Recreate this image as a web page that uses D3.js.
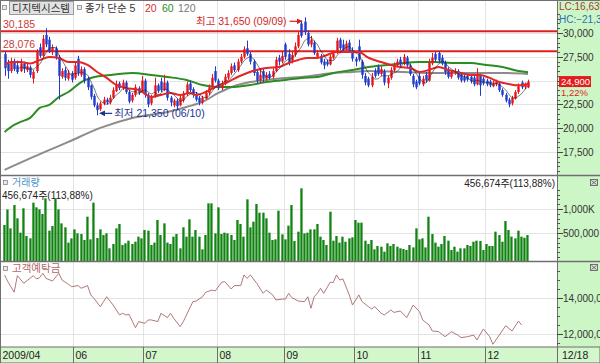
<!DOCTYPE html>
<html>
<head>
<meta charset="utf-8">
<script src="https://cdn.jsdelivr.net/npm/d3@7"></script>
<style>
  body { margin: 0; background: #fff; }
  svg { display: block; }
  text { font-family: "Liberation Sans", "Noto Sans CJK KR", sans-serif; }
</style>
</head>
<body>
<div id="chart"></div>
<script>
// daily candles 2009/04/28 ~ 12/18
var opens = [27800,26800,26000,27000,26600,26000,26800,26100,26400,25200,
  26000,28500,27600,29800,29300,28000,28400,27500,25400,26100,
  25200,25800,25300,27300,25600,26200,25200,24500,23400,22400,
  22000,22600,23000,22700,23200,23900,24700,24200,24800,23800,
  22900,23500,24200,23800,25000,23500,22600,23300,24500,24900,
  24000,24800,23200,22400,22900,22400,22900,23600,24700,24100,
  23600,23200,22700,23100,23700,24300,26000,25000,24200,24700,
  25300,25800,26600,26100,27000,27500,28400,27800,27000,25900,
  25000,26000,25200,25700,25400,26000,27400,27000,28800,27800,
  27000,27700,28600,31000,31200,30000,28800,29000,27500,27600,
  27000,27000,26700,27400,27900,29300,28800,28200,29000,28200,
  27300,28600,27000,25500,25200,24500,26000,26400,25700,26000,
  24700,25300,26100,26600,27200,26800,27400,26600,25500,24900,
  25500,24600,25600,25000,26800,27800,27900,27400,26900,26200,
  25400,25800,26000,25700,25400,25500,25400,25300,24600,25500,
  25200,25000,24900,24400,24600,24700,24000,23500,23000,22600,
  23100,23800,24800,24300,24300];
var closes = [26300,26000,26900,26200,25900,26800,26200,26500,25600,25900,
  28000,27600,29400,28800,28100,28500,27500,25500,26000,25300,
  25800,25100,26600,25800,26200,25000,24300,23300,22400,21900,
  22600,23000,22700,23200,24000,24600,24200,24800,23800,22800,
  23500,24300,23700,25000,23500,22500,23300,24500,23900,24000,
  24800,23200,22700,22900,22300,23200,23600,24600,24000,23500,
  23000,22700,23200,23700,24300,25300,25000,24200,24700,25400,
  25800,26500,26100,27000,27500,28300,27800,27000,25800,25000,
  25600,25200,25600,25300,26000,27200,27000,27600,27500,26900,
  27700,28600,29800,29700,30100,28800,29300,27900,27900,26900,
  26600,26700,27500,27800,29200,28400,28200,28900,28100,27300,
  27000,27200,25600,24800,24500,25400,25500,25700,26200,24800,
  25300,26100,26600,27000,26700,27500,26600,25700,24600,24300,
  24700,25200,25000,26900,27400,27200,27100,26800,25900,25400,
  25900,26000,25300,25000,25000,25100,24900,24600,25600,24500,
  24700,24600,24500,24800,24900,24000,23500,22900,22500,23200,
  23800,24400,24300,24600,24900];
var highs = [28100,27200,27400,27300,27100,27300,27000,26800,26600,26100,
  28300,28900,29800,30500,29600,28800,28600,27700,26300,26400,
  26100,26000,26900,27600,26500,26400,25400,24600,23600,22700,
  22800,23300,23200,23500,24300,25000,24900,25100,25000,24000,
  23700,24600,24400,25500,25200,23700,23500,25300,24700,25300,
  25600,25000,23400,23100,23100,23400,23900,24900,25000,24300,
  23800,23400,23400,24000,24600,25700,26500,25200,25000,25700,
  26100,26800,26900,27300,27800,28600,29200,28000,27200,26200,
  26200,26300,25900,26000,26300,27500,27700,28000,29000,28300,
  28000,29000,30200,31300,31650,30300,29700,29200,28200,27800,
  27300,27200,27700,28100,29500,29500,29300,29200,29300,28500,
  27500,29300,27200,25800,25400,25800,26300,26700,26500,26200,
  25500,26400,26900,27300,27500,27800,27600,26800,25700,25100,
  26000,25500,25900,27300,27900,28000,28100,27700,27100,26400,
  26100,26300,26200,25900,25600,25700,25600,25500,26300,25700,
  25400,25200,25100,25000,25100,24900,24200,23700,23200,23400,
  24000,24700,25000,24800,25100];
var lows = [25500,25200,25800,26000,25700,25900,25800,25900,25300,24700,
  25800,27400,27500,28500,27900,27700,27200,23000,25200,25000,
  25000,24800,25100,25500,25400,24700,24000,23000,22200,21350,
  21800,22400,22500,22500,23100,23800,24000,24000,23600,22600,
  22700,23300,23500,23700,23200,22200,22400,23200,23700,23800,
  23900,22900,22300,22200,21900,22300,22700,23400,23800,23200,
  22800,22400,22500,23000,23500,24200,24800,24000,24000,24500,
  25100,25600,25900,25900,26800,27300,27600,26700,25500,24700,
  24800,24800,25000,25100,25200,25900,26600,26800,27200,26600,
  26800,27500,28400,29500,29800,28600,28500,27700,27300,26700,
  26200,26500,26600,27200,27800,28200,28000,28000,27900,27000,
  26500,27000,25200,24500,24300,24300,25300,25500,25500,24500,
  24200,25100,25900,26400,26500,26600,26300,25500,24300,24100,
  24500,24400,24800,24900,26600,27000,26900,26600,25600,25200,
  25200,25600,25100,24800,24800,24900,24700,24400,24500,23400,
  24500,24400,24300,24300,24400,23800,23300,22700,22200,22400,
  23000,23600,24100,24100,24200];
var volumes = [667000,990000,597000,1083000,806000,507000,1014000,437000,389000,1132000,
  1035000,993000,896000,1222000,549000,646000,1208000,993000,701000,618000,
  300000,389000,576000,493000,479000,354000,840000,368000,1132000,396000,
  576000,458000,493000,181000,271000,597000,688000,250000,285000,340000,
  271000,319000,424000,389000,563000,549000,250000,300000,771000,458000,
  701000,300000,271000,424000,479000,181000,618000,424000,785000,424000,
  563000,424000,160000,458000,1118000,1118000,493000,1035000,479000,507000,
  493000,458000,354000,771000,688000,424000,1201000,618000,736000,1104000,
  924000,924000,806000,507000,354000,368000,965000,472000,368000,653000,
  1083000,333000,528000,1431000,493000,507000,576000,576000,688000,424000,
  354000,250000,944000,340000,438000,300000,424000,319000,389000,410000,
  771000,715000,715000,340000,271000,354000,160000,229000,215000,111000,
  285000,229000,271000,215000,181000,167000,146000,250000,200000,597000,
  368000,389000,200000,840000,479000,300000,215000,271000,438000,340000,
  146000,215000,111000,181000,181000,250000,229000,319000,340000,333000,
  146000,271000,229000,229000,528000,458000,319000,750000,563000,424000,
  389000,549000,424000,401010,456674];

// moving averages (bar index, price)
var ma20Idx = [0,2,5,8,11,14,17,20,23,26,29,32,35,38,42,46,49,52,55,58,60,63,66,70,73,76,79,82,86,89,
  92,95,98,101,104,108,111,114,118,121,124,127,130,133,136,139,143,146,149,152,155,158,161,164];
var ma20Val = [26640,26950,26950,26800,27150,27480,27370,26950,26950,26640,25900,25280,24540,24230,24020,23280,23490,23700,23490,23700,23490,23800,24330,24850,25380,25800,26120,26330,26430,26850,
  27170,27380,27380,27690,28000,28000,28000,27400,26950,26640,26430,26330,25900,26120,26430,26120,25800,25590,25590,25280,24850,24640,24500,24650];
var ma60Idx = [0,3,5,8,11,14,17,20,24,27,33,40,46,51,57,62,67,72,77,82,88,93,98,103,109,114,120,125,130,135,140,146,151,156,161,164];
var ma60Val = [19600,20340,20660,21080,22130,22440,23280,23800,24850,25280,25590,25800,25590,25380,25070,24540,24330,24330,24540,24850,
  25070,25280,25380,25800,26120,26430,26640,26850,26950,26950,26850,26850,26640,26430,26010,25880];
var ma120Idx = [0,9,20,30,40,51,57,62,67,72,77,82,88,93,98,103,109,114,125,135,146,156,164];
var ma120Val = [15620,16980,18560,20030,21080,21710,22230,22760,23700,24440,24850,25070,25280,25380,25590,25800,25900,26010,25900,25800,25800,25800,25700];

// customer deposits (bar index, million won)
var depositIdx = [0,1,3,4,6,9,10,11,12,13,15,17,18,20,21,23,24,26,27,28,30,31,32,34,36,37,38,39,41,42,
  44,45,46,48,49,51,52,53,55,56,59,60,62,63,65,66,68,69,71,72,74,75,76,77,79,81,82,84,85,87,
  88,89,90,92,94,95,96,97,98,99,100,102,103,104,105,106,108,109,111,112,114,115,116,118,119,121,122,124,126,128,
  130,131,133,134,136,138,140,142,143,145,147,148,150,152,153,155,157,159,161,162];
var depositVal = [15280000,14910000,14320000,15240000,14820000,15240000,15060000,15130000,15370000,15090000,
  14940000,15370000,15000000,14760000,14630000,14690000,14540000,14690000,14170000,13980000,
  13520000,13800000,14070000,13610000,13060000,13150000,13060000,13090000,12350000,12690000,
  12590000,12780000,12780000,12690000,13150000,12910000,13150000,12870000,12410000,12690000,
  13800000,13830000,14070000,14320000,14440000,14390000,14870000,14910000,14500000,14690000,
  14690000,15280000,15090000,15280000,14820000,14260000,14440000,14170000,13890000,13940000,
  13940000,14260000,14020000,13830000,13800000,14070000,13430000,14070000,14260000,14540000,
  14260000,14870000,14870000,15280000,15000000,15060000,14170000,13610000,14170000,13800000,
  13520000,13390000,13520000,13150000,13060000,13330000,13200000,13280000,12910000,13610000,
  13240000,12780000,12500000,12170000,12130000,11850000,12130000,11940000,11800000,11850000,
  11940000,11670000,12280000,11850000,11430000,11940000,12460000,12170000,12720000,12500000];

var monthStart = [0,22,44,67,88,110,130,151];
var monthLabels = ["2009/04","06","07","08","09","10","11","12"];
var lastDateLabel = "12/18";
var priceTicks = [30000,27500,25000,22500,20000,17500];
var volumeTicks = [1000000,500000];
var volumeTickLabels = ["1,000K","500,000"];
var depositTicks = [14000000,12000000];
var levelValues = [30185,28076];
var extremeDates = ["09/09","06/10"];

var W = 600, H = 363, plotR = 557;
var fmt = d3.format(",");
var comma2 = function (v) { return d3.format(".2f")(v).replace(".", ","); };

var svg = d3.select("#chart").append("svg")
  .attr("width", W)
  .attr("height", H);

svg.append("rect").attr("width", W).attr("height", H).attr("fill", "#fff");
// right axis strip
svg.append("rect").attr("x", plotR).attr("y", 0).attr("width", W - plotR).attr("height", H).attr("fill", "#cdf6c6");

var N = closes.length;
var x = d3.scaleBand().domain(d3.range(N)).range([3, 529.6]);
var bw = x.bandwidth();
var cx = function (i) { return x(i) + bw / 2; };

var yPrice = d3.scaleLinear().domain([17500, 30000]).range([152, 33]);
var yVol = d3.scaleLinear().domain([0, 1000000]).range([257, 209]);
var yDep = d3.scaleLinear().domain([12000000, 14000000]).range([334, 298]);

var last = closes[N - 1], prev = closes[N - 2];
var lastY = yPrice(last);

// clip paths for panels
var defs = svg.append("defs");
[["cPrice", 0, 175], ["cVol", 176, 261], ["cDep", 262, 347]].forEach(function (c) {
  defs.append("clipPath").attr("id", c[0]).append("rect")
    .attr("x", 0).attr("y", c[1]).attr("width", plotR).attr("height", c[2] - c[1]);
});

// grid
var grid = svg.append("g").attr("stroke", "#e3e3e3").attr("stroke-width", 1);
monthStart.slice(1).forEach(function (m) {
  grid.append("line").attr("x1", Math.round(x(m)) + 0.5).attr("x2", Math.round(x(m)) + 0.5)
    .attr("y1", 0).attr("y2", 347);
});
priceTicks.forEach(function (t) {
  grid.append("line").attr("x1", 0).attr("x2", plotR).attr("y1", Math.round(yPrice(t)) + 0.5).attr("y2", Math.round(yPrice(t)) + 0.5);
});
volumeTicks.forEach(function (t) {
  grid.append("line").attr("x1", 0).attr("x2", plotR).attr("y1", Math.round(yVol(t)) + 0.5).attr("y2", Math.round(yVol(t)) + 0.5);
});
depositTicks.forEach(function (t) {
  grid.append("line").attr("x1", 0).attr("x2", plotR).attr("y1", Math.round(yDep(t)) + 0.5).attr("y2", Math.round(yDep(t)) + 0.5);
});

// ---- price panel
var pricePanel = svg.append("g").attr("clip-path", "url(#cPrice)");

levelValues.forEach(function (v) {
  pricePanel.append("line").attr("x1", 0).attr("x2", plotR)
    .attr("y1", yPrice(v)).attr("y2", yPrice(v))
    .attr("stroke", "#e01e1e").attr("stroke-width", 2);
});

var maLine = function (idx, vals) {
  return d3.line().x(function (d) { return cx(d); }).y(function (d, k) { return yPrice(vals[k]); })
    .curve(d3.curveMonotoneX)(idx);
};
pricePanel.append("path").attr("d", maLine(ma120Idx, ma120Val)).attr("fill", "none").attr("stroke", "#8c8c8c").attr("stroke-width", 2);
pricePanel.append("path").attr("d", maLine(ma60Idx, ma60Val)).attr("fill", "none").attr("stroke", "#2b8c22").attr("stroke-width", 2);

var up = "#e8141c", down = "#1f3ccf";
var candles = pricePanel.selectAll(null).data(d3.range(N)).enter().append("g")
  .attr("fill", function (i) { return closes[i] >= opens[i] ? up : down; })
  .attr("stroke", function (i) { return closes[i] >= opens[i] ? up : down; });
candles.append("line")
  .attr("x1", function (i) { return Math.round(cx(i)) + 0.5; })
  .attr("x2", function (i) { return Math.round(cx(i)) + 0.5; })
  .attr("y1", function (i) { return yPrice(highs[i]); })
  .attr("y2", function (i) { return yPrice(lows[i]); })
  .attr("stroke-width", 1);
candles.append("rect")
  .attr("x", function (i) { return Math.round(cx(i)) - 0.7; })
  .attr("width", 2.4)
  .attr("y", function (i) { return yPrice(Math.max(opens[i], closes[i])); })
  .attr("height", function (i) { return Math.max(1, Math.abs(yPrice(opens[i]) - yPrice(closes[i]))); })
  .attr("stroke", "none");

pricePanel.append("path").attr("d", maLine(ma20Idx, ma20Val)).attr("fill", "none").attr("stroke", "#e32626").attr("stroke-width", 2);

var ma5 = d3.range(4, N).map(function (i) { return [i, d3.mean(closes.slice(i - 4, i + 1))]; });
pricePanel.append("path")
  .attr("d", d3.line().x(function (d) { return cx(d[0]); }).y(function (d) { return yPrice(d[1]); }).curve(d3.curveMonotoneX)(ma5))
  .attr("fill", "none").attr("stroke", "#222").attr("stroke-width", 0.6);

// level labels
levelValues.forEach(function (v) {
  svg.append("text").attr("x", 3).attr("y", yPrice(v) - 3).attr("font-size", 10.5).attr("fill", "#c83c3c").text(fmt(v));
});

// extremes
var hiIdx = d3.maxIndex(highs), loIdx = d3.minIndex(lows);
var hiY = yPrice(highs[hiIdx]) + 4, loY = yPrice(lows[loIdx]) - 2;
defs.append("marker").attr("id", "arrR").attr("viewBox", "0 0 6 6").attr("refX", 5).attr("refY", 3)
  .attr("markerWidth", 5).attr("markerHeight", 5).attr("orient", "auto")
  .append("path").attr("d", "M0,0L6,3L0,6Z").attr("fill", "#d41f1f");
defs.append("marker").attr("id", "arrB").attr("viewBox", "0 0 6 6").attr("refX", 5).attr("refY", 3)
  .attr("markerWidth", 5).attr("markerHeight", 5).attr("orient", "auto")
  .append("path").attr("d", "M0,0L6,3L0,6Z").attr("fill", "#1a3496");
svg.append("line").attr("x1", cx(hiIdx) - 15).attr("x2", cx(hiIdx) - 3).attr("y1", hiY).attr("y2", hiY)
  .attr("stroke", "#d41f1f").attr("stroke-width", 1.2).attr("marker-end", "url(#arrR)");
svg.append("text").attr("x", cx(hiIdx) - 18).attr("y", hiY + 4).attr("text-anchor", "end")
  .attr("font-size", 10.5).attr("fill", "#d41f1f")
  .text("최고 " + fmt(highs[hiIdx]) + " (" + extremeDates[0] + ")");
svg.append("line").attr("x1", cx(loIdx) + 15).attr("x2", cx(loIdx) + 3).attr("y1", loY).attr("y2", loY)
  .attr("stroke", "#1a3496").attr("stroke-width", 1.2).attr("marker-end", "url(#arrB)");
svg.append("text").attr("x", cx(loIdx) + 17).attr("y", loY + 4)
  .attr("font-size", 10.5).attr("fill", "#1a3496")
  .text("최저 " + fmt(lows[loIdx]) + " (" + extremeDates[1] + ")");

// ---- volume panel
var volPanel = svg.append("g").attr("clip-path", "url(#cVol)");
volPanel.selectAll(null).data(d3.range(N)).enter().append("rect")
  .attr("x", function (i) { return Math.round(x(i)) + 0.3; })
  .attr("width", 2.3)
  .attr("y", function (i) { return yVol(volumes[i]); })
  .attr("height", function (i) { return 261 - yVol(volumes[i]); })
  .attr("fill", "#118311");

// ---- deposit panel
var depPanel = svg.append("g").attr("clip-path", "url(#cDep)");
depPanel.append("path")
  .attr("d", d3.line().x(function (d) { return cx(d); }).y(function (d, k) { return yDep(depositVal[k]); })(depositIdx))
  .attr("fill", "none").attr("stroke", "#a66a6a").attr("stroke-width", 0.9);

// ---- frame & separators
var sep = svg.append("g").attr("stroke", "#6f6f6f");
sep.append("line").attr("x1", 0).attr("x2", W).attr("y1", 175.5).attr("y2", 175.5).attr("stroke-width", 1.5);
sep.append("line").attr("x1", 0).attr("x2", W).attr("y1", 261.5).attr("y2", 261.5).attr("stroke-width", 1.5);
sep.append("line").attr("x1", plotR + 0.5).attr("x2", plotR + 0.5).attr("y1", 0).attr("y2", H);
sep.append("line").attr("x1", 0.5).attr("x2", 0.5).attr("y1", 0).attr("y2", H);
sep.append("line").attr("x1", 0).attr("x2", W).attr("y1", 0.5).attr("y2", 0.5);

// ---- x axis band
svg.append("rect").attr("x", 0).attr("y", 347).attr("width", W).attr("height", 16)
  .attr("fill", "#d3f6cb").attr("stroke", "#6f6f6f");
monthStart.forEach(function (m, k) {
  var xx = k === 0 ? 0.5 : Math.round(x(m)) + 0.5;
  svg.append("line").attr("x1", xx).attr("x2", xx).attr("y1", 347).attr("y2", H).attr("stroke", "#6f6f6f");
  svg.append("text").attr("x", xx + 2).attr("y", 359).attr("font-size", 10.5).attr("fill", "#222").text(monthLabels[k]);
});
svg.append("line").attr("x1", plotR + 0.5).attr("x2", plotR + 0.5).attr("y1", 347).attr("y2", H).attr("stroke", "#6f6f6f");
svg.append("text").attr("x", plotR + 5).attr("y", 359).attr("font-size", 10.5).attr("fill", "#222").text(lastDateLabel);

// ---- right axes
var axisG = svg.append("g").attr("font-size", 10).attr("fill", "#333");
function minor(scale, from, to, step, top, bottom) {
  for (var v = from; v <= to; v += step) {
    var yy = Math.round(scale(v)) + 0.5;
    if (yy > top && yy < bottom) {
      axisG.append("line").attr("x1", plotR).attr("x2", plotR + 3).attr("y1", yy).attr("y2", yy).attr("stroke", "#555");
    }
  }
}
minor(yPrice, 15000, 32000, 500, 2, 174);
minor(yVol, 0, 1400000, 100000, 177, 260);
minor(yDep, 11000000, 16000000, 500000, 263, 346);
function majors(scale, ticks, labels, skipY) {
  ticks.forEach(function (t, k) {
    var yy = Math.round(scale(t)) + 0.5;
    axisG.append("line").attr("x1", plotR).attr("x2", plotR + 6).attr("y1", yy).attr("y2", yy).attr("stroke", "#444");
    // the label under the current price box is hidden, as in the terminal
    if (skipY !== undefined && Math.abs(yy - skipY) < 10) return;
    axisG.append("text").attr("x", plotR + 6).attr("y", yy).attr("dy", "0.35em").text(labels ? labels[k] : fmt(t));
  });
}
majors(yPrice, priceTicks, null, lastY);
majors(yVol, volumeTicks, volumeTickLabels);
majors(yDep, depositTicks);

// current price box
svg.append("rect").attr("x", plotR + 2).attr("y", lastY - 5.5).attr("width", 32).attr("height", 11).attr("fill", "#e41c1c");
svg.append("text").attr("x", plotR + 4).attr("y", lastY + 3.4).attr("font-size", 9.5).attr("fill", "#fff").text(fmt(last));
svg.append("text").attr("x", plotR + 4).attr("y", lastY + 14.6).attr("font-size", 9.5).attr("fill", "#e41c1c")
  .text(comma2((last / prev - 1) * 100) + "%");

var lowest = d3.min(lows), highest = d3.max(highs);
svg.append("text").attr("x", plotR + 2).attr("y", 10).attr("font-size", 10).attr("fill", "#a83a3a")
  .text("LC:" + comma2((last / lowest - 1) * 100) + "%");
svg.append("text").attr("x", plotR + 2).attr("y", 22.5).attr("font-size", 10).attr("fill", "#2e6fb5")
  .text("HC:" + comma2((last / highest - 1) * 100) + "%");

// ---- headers
function icon(xx, yy) {
  svg.append("rect").attr("x", xx).attr("y", yy).attr("width", 4).attr("height", 4)
    .attr("fill", "#e8e8e8").attr("stroke", "#888").attr("stroke-width", 0.8);
}
icon(2.5, 5.5);
svg.append("rect").attr("x", 9.5).attr("y", 1.5).attr("width", 64).attr("height", 13)
  .attr("fill", "#e2e2e2").attr("stroke", "#9a9a9a");
svg.append("text").attr("x", 12).attr("y", 12).attr("font-size", 10.5).attr("fill", "#333").text("디지텍시스템");
icon(77.5, 5.5);
svg.append("text").attr("x", 85).attr("y", 12).attr("font-size", 10.5).attr("fill", "#333").text("종가 단순 5");
svg.append("text").attr("x", 145).attr("y", 12).attr("font-size", 10.5).attr("fill", "#d03030").text("20");
svg.append("text").attr("x", 162).attr("y", 12).attr("font-size", 10.5).attr("fill", "#2b8c22").text("60");
svg.append("text").attr("x", 178).attr("y", 12).attr("font-size", 10.5).attr("fill", "#777").text("120");

var volLabel = fmt(volumes[N - 1]) + "주(" + comma2(volumes[N - 1] / volumes[N - 2] * 100) + "%)";
icon(3.5, 180.5);
svg.append("text").attr("x", 12).attr("y", 186).attr("font-size", 10).attr("fill", "#4d92c8").text("거래량");
svg.append("text").attr("x", 2).attr("y", 199).attr("font-size", 10).attr("fill", "#222").text(volLabel);
svg.append("text").attr("x", 555).attr("y", 187).attr("text-anchor", "end").attr("font-size", 10).attr("fill", "#222").text(volLabel);

icon(3.5, 266.5);
svg.append("text").attr("x", 12).attr("y", 272).attr("font-size", 10.5).attr("fill", "#b06a6a").text("고객예탁금");

// close boxes
[179, 264].forEach(function (yy) {
  var g = svg.append("g").attr("stroke", "#555").attr("stroke-width", 0.8);
  g.append("rect").attr("x", 590.5).attr("y", yy + 0.5).attr("width", 7).attr("height", 6).attr("fill", "#ddd");
  g.append("line").attr("x1", 591.5).attr("x2", 596.5).attr("y1", yy + 1.5).attr("y2", yy + 5.5);
  g.append("line").attr("x1", 596.5).attr("x2", 591.5).attr("y1", yy + 1.5).attr("y2", yy + 5.5);
});
</script>
</body>
</html>
